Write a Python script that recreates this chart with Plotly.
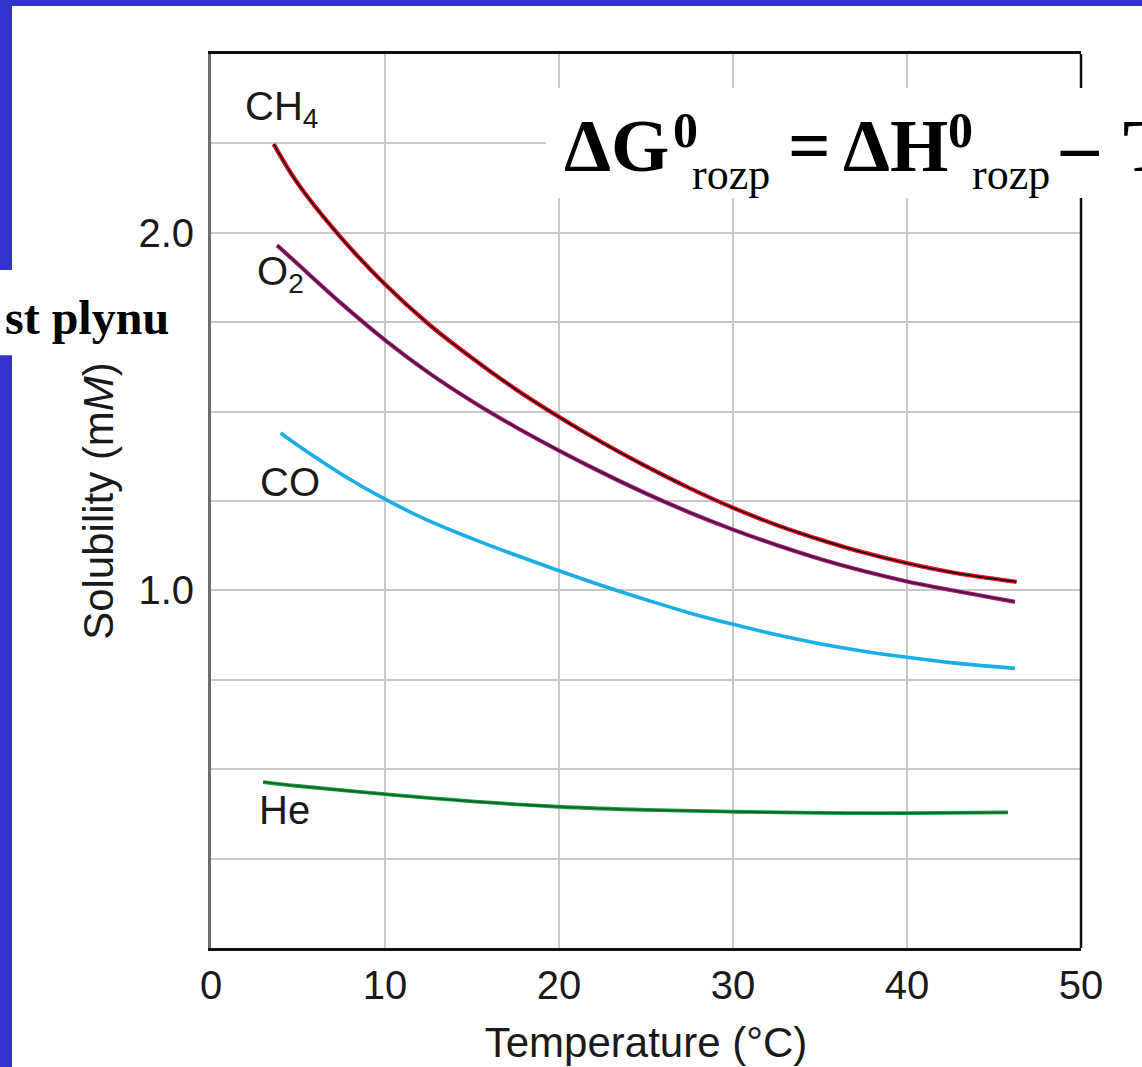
import plotly.graph_objects as go

# ---- data ----
temp_ch4 = [3.6, 5.0, 7.5, 10.0, 12.5, 15.0, 17.5, 20.0, 22.5, 25.0, 27.5,
            30.0, 32.5, 35.0, 37.5, 40.0, 42.5, 46.3]
sol_ch4 = [2.248, 2.137, 1.985, 1.856, 1.745, 1.650, 1.563, 1.485, 1.413,
           1.347, 1.286, 1.231, 1.183, 1.142, 1.106, 1.076, 1.051, 1.024]

temp_o2 = [3.8, 5.0, 7.5, 10.0, 12.5, 15.0, 17.5, 20.0, 22.5, 25.0, 27.5,
           30.0, 32.5, 35.0, 37.5, 40.0, 42.5, 46.2]
sol_o2 = [1.965, 1.912, 1.802, 1.700, 1.609, 1.529, 1.457, 1.391, 1.329,
          1.271, 1.218, 1.170, 1.127, 1.088, 1.054, 1.025, 1.001, 0.968]

temp_co = [4.0, 5.0, 7.5, 10.0, 12.5, 15.0, 17.5, 20.0, 22.5, 25.0, 27.5,
           30.0, 32.5, 35.0, 37.5, 40.0, 42.5, 46.2]
sol_co = [1.440, 1.405, 1.325, 1.255, 1.195, 1.145, 1.099, 1.055, 1.013,
          0.974, 0.937, 0.905, 0.876, 0.851, 0.830, 0.813, 0.798, 0.782]

temp_he = [3.0, 5.0, 10.0, 15.0, 20.0, 25.0, 30.0, 35.0, 40.0, 45.8]
sol_he = [0.464, 0.453, 0.430, 0.410, 0.395, 0.386, 0.381, 0.378, 0.377, 0.379]

x_ticks = [0, 10, 20, 30, 40, 50]
x_ticktext = ["0", "10", "20", "30", "40", "50"]
y_ticks = [1.0, 2.0]
y_ticktext = ["1.0", "2.0"]
y_minor = [0.25, 0.5, 0.75, 1.25, 1.5, 1.75, 2.25]

gas_labels = ["CH<sub>4</sub>", "O<sub>2</sub>", "CO", "He"]
label_x = [1.84, 2.53, 2.70, 2.64]
label_y = [2.347, 1.886, 1.303, 0.385]

x_title = "Temperature (°C)"
y_title = "Solubility (m<i>M</i>)"

# equation pieces: text, left px, baseline px, font size, bold
eq_text = ["ΔG", "0", "rozp", "=", "ΔH", "0", "rozp", "–", "T"]
eq_left = [563, 672, 691, 787, 842, 947, 971, 1059, 1122]
eq_base = [172, 148, 190, 172, 172, 148, 190, 172, 172]
eq_size = [75, 50, 44, 75, 75, 50, 44, 75, 75]
eq_bold = [True, True, False, True, True, True, False, True, True]

side_text = "st plynu"

BLUE = "#3333cc"
SANS = "Liberation Sans, Arial, Helvetica, sans-serif"
SERIF = "Liberation Serif, Times New Roman, serif"

fig = go.Figure()


def add_curve(xs, ys, color, width):
    fig.add_trace(go.Scatter(
        x=xs, y=ys, mode="lines",
        line=dict(color=color, width=width, shape="spline", smoothing=1.0),
        hoverinfo="skip", showlegend=False))


# CH4 : red line with black core
add_curve(temp_ch4, sol_ch4, "#ee1020", 4.4)
add_curve(temp_ch4, sol_ch4, "#111111", 1.6)
# O2 : purple
add_curve(temp_o2, sol_o2, "#a02872", 4.2)
add_curve(temp_o2, sol_o2, "#5c0c48", 2.0)
# CO : light blue
add_curve(temp_co, sol_co, "#1aaee6", 3.6)
# He : green
add_curve(temp_he, sol_he, "#1a9a40", 3.8)
add_curve(temp_he, sol_he, "#0b6124", 1.6)


def px_x(p):
    return (p - 211) / 870.0


def px_y(p):
    return (947.6 - p) / 893.6


annotations = []
for txt, lx, ly in zip(gas_labels, label_x, label_y):
    annotations.append(dict(
        x=lx, y=ly, xref="x", yref="y", text=txt, showarrow=False,
        xanchor="left", yanchor="middle",
        font=dict(family=SANS, size=40, color="#1a1a1a")))

for txt, lft, base, fs, bold in zip(eq_text, eq_left, eq_base, eq_size, eq_bold):
    annotations.append(dict(
        x=px_x(lft), y=px_y(base - 0.36 * fs), xref="paper", yref="paper",
        text=("<b>%s</b>" % txt) if bold else txt, showarrow=False,
        xanchor="left", yanchor="middle", borderpad=0,
        font=dict(family=SERIF, size=fs, color="black")))

annotations.append(dict(
    x=px_x(171), y=px_y(317), xref="paper", yref="paper",
    text="<b>%s</b>" % side_text, showarrow=False, xanchor="right",
    yanchor="middle", font=dict(family=SERIF, size=48, color="black")))

shapes = [
    # right frame line
    dict(type="line", xref="paper", yref="paper", x0=1, x1=1, y0=0, y1=1,
         line=dict(color="#111111", width=2.5), layer="above"),
    # white box behind the equation
    dict(type="rect", xref="paper", yref="paper",
         x0=px_x(546), x1=px_x(1150), y0=px_y(198), y1=px_y(88),
         fillcolor="white", line=dict(width=0), layer="above"),
    # top blue band
    dict(type="rect", xref="paper", yref="paper",
         x0=px_x(-5), x1=px_x(1150), y0=px_y(6), y1=px_y(-5),
         fillcolor=BLUE, line=dict(width=0), layer="above"),
    # left blue band (upper part)
    dict(type="rect", xref="paper", yref="paper",
         x0=px_x(-5), x1=px_x(12), y0=px_y(270), y1=px_y(-5),
         fillcolor=BLUE, line=dict(width=0), layer="above"),
    # left blue band (lower part)
    dict(type="rect", xref="paper", yref="paper",
         x0=px_x(-5), x1=px_x(12), y0=px_y(1075), y1=px_y(355),
         fillcolor=BLUE, line=dict(width=0), layer="above"),
]

fig.update_layout(
    width=1142, height=1067,
    margin=dict(l=211, r=61, t=54, b=119, autoexpand=False),
    paper_bgcolor="white", plot_bgcolor="white",
    showlegend=False, hovermode=False,
    annotations=annotations,
    shapes=shapes,
    xaxis=dict(
        range=[0, 50], tickvals=x_ticks, ticktext=x_ticktext,
        showgrid=True, gridcolor="#c8c8c8", gridwidth=2,
        showline=True, linecolor="#111111", linewidth=3, mirror=True,
        ticks="",
        tickfont=dict(family=SANS, size=40, color="#1a1a1a"),
        title=dict(text=x_title, standoff=22,
                   font=dict(family=SANS, size=42, color="#1a1a1a")),
        zeroline=False, fixedrange=True,
    ),
    yaxis=dict(
        range=[0, 2.5], tickvals=y_ticks, ticktext=y_ticktext,
        showgrid=True, gridcolor="#c8c8c8", gridwidth=2,
        minor=dict(tickvals=y_minor, showgrid=True,
                   gridcolor="#c8c8c8", gridwidth=2),
        showline=True, linecolor="#6e6e6e", linewidth=3, mirror=False,
        ticks="outside", ticklen=6, tickcolor="rgba(0,0,0,0)",
        tickfont=dict(family=SANS, size=40, color="#1a1a1a"),
        title=dict(text=y_title, standoff=12,
                   font=dict(family=SANS, size=42, color="#1a1a1a")),
        zeroline=False, fixedrange=True,
    ),
)

fig.write_html("out.html",
               config={"displayModeBar": False, "staticPlot": True},
               post_script="document.body.style.margin='0px';")
